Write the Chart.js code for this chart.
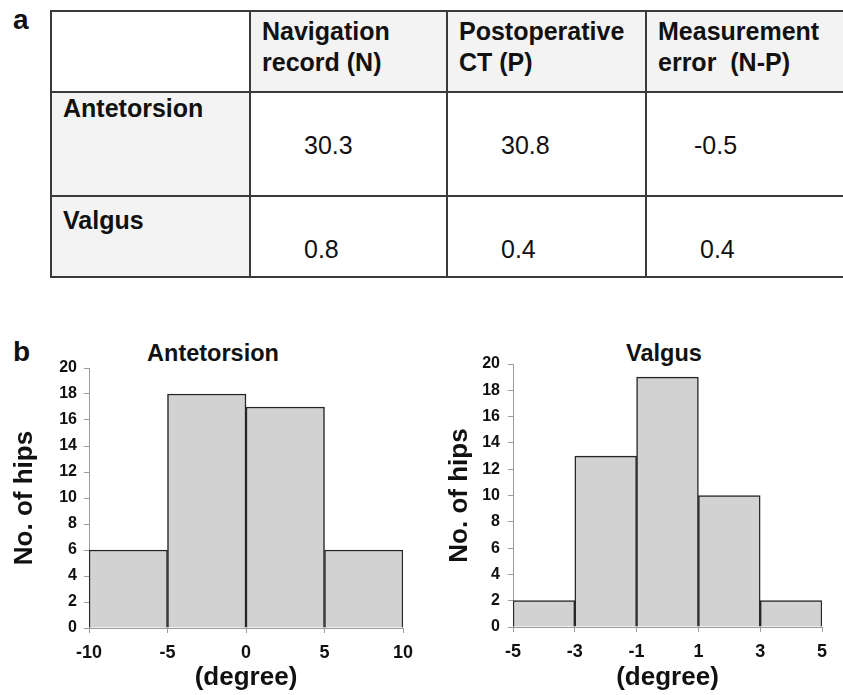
<!DOCTYPE html>
<html>
<head>
<meta charset="utf-8">
<script src="https://cdn.jsdelivr.net/npm/chart.js@4/dist/chart.umd.min.js"></script>
<style>
  html, body { margin:0; padding:0; background:#fff; width:843px; height:695px; overflow:hidden;
    font-family:"Liberation Sans", Arial, Helvetica, sans-serif; color:#111; }
  .abs { position:absolute; }
  .panel { font-weight:bold; font-size:28px; line-height:28px; }
  .ctitle { font-weight:bold; font-size:23.5px; line-height:23.5px; transform:translateX(-50%); white-space:nowrap; }
  table { position:absolute; left:50px; top:10px; width:793px; border-collapse:collapse; table-layout:fixed; }
  td { border:2px solid #3a3a3a; padding:0; vertical-align:top; font-size:25px; line-height:31px; }
  td.hd { background:#f3f3f3; font-weight:bold; padding:4px 0 0 11px; }
  td.rl { background:#f3f3f3; font-weight:bold; padding-left:11px; }
  td.val { background:#fff; padding-top:37px; }
  td.blank { background:#fff; }
  .ln { white-space:pre; }
  .chartbox { position:absolute; }
</style>
</head>
<body>

<div class="abs panel" style="left:13px; top:6px;">a</div>
<table id="tbl">
  <colgroup><col style="width:199px"><col style="width:197px"><col style="width:199px"><col style="width:198px"></colgroup>
</table>

<div class="abs panel" style="left:13px; top:338px;">b</div>
<div class="abs ctitle" id="t0" style="left:213px; top:342px;"></div>
<div class="abs ctitle" id="t1" style="left:664px; top:342px;"></div>

<div class="chartbox" style="left:0px; top:330px; width:430px; height:365px;">
  <canvas id="c0" width="430" height="365"></canvas>
</div>
<div class="chartbox" style="left:420px; top:330px; width:423px; height:365px;">
  <canvas id="c1" width="423" height="365"></canvas>
</div>

<script>
// ---------- Table data ----------
const colHeaders = [["Navigation", "record (N)"], ["Postoperative", "CT (P)"], ["Measurement", "error  (N-P)"]];
const rowLabels = ["Antetorsion", "Valgus"];
const antetorsionValues = [30.3, 30.8, -0.5];
const valgusValues = [0.8, 0.4, 0.4];

// ---------- Histogram data ----------
const chartTitles = ["Antetorsion", "Valgus"];
const yAxisTitle = "No. of hips";
const xAxisTitle = "(degree)";
const antetorsionBinEdges = [-10, -5, 0, 5, 10];
const antetorsionCounts = [6, 18, 17, 6];
const antetorsionXTicks = [-10, -5, 0, 5, 10];
const valgusBinEdges = [-5, -3, -1, 1, 3, 5];
const valgusCounts = [2, 13, 19, 10, 2];
const valgusXTicks = [-5, -3, -1, 1, 3, 5];
const yTicks = [0, 2, 4, 6, 8, 10, 12, 14, 16, 18, 20];

// ---------- Build table ----------
(function buildTable() {
  const tbl = document.getElementById('tbl');
  const heights = [81, 104, 81];
  const rowLabelPad = [0, 8];
  let tr = document.createElement('tr');
  tr.style.height = heights[0] + 'px';
  let td = document.createElement('td'); td.className = 'blank'; tr.appendChild(td);
  colHeaders.forEach(lines => {
    const c = document.createElement('td'); c.className = 'hd';
    lines.forEach(l => { const d = document.createElement('div'); d.className = 'ln'; d.textContent = l; c.appendChild(d); });
    tr.appendChild(c);
  });
  tbl.appendChild(tr);
  [antetorsionValues, valgusValues].forEach((vals, r) => {
    const row = document.createElement('tr');
    row.style.height = heights[r + 1] + 'px';
    const l = document.createElement('td'); l.className = 'rl'; l.textContent = rowLabels[r];
    l.style.paddingTop = rowLabelPad[r] + 'px';
    row.appendChild(l);
    vals.forEach(v => {
      const c = document.createElement('td'); c.className = 'val';
      c.style.paddingLeft = (v < 0 ? 47 : 53) + 'px';
      c.textContent = v.toFixed(1);
      row.appendChild(c);
    });
    tbl.appendChild(row);
  });
})();

document.getElementById('t0').textContent = chartTitles[0];
document.getElementById('t1').textContent = chartTitles[1];

// ---------- Histograms ----------
const FONT = '"Liberation Sans", Arial, Helvetica, sans-serif';
const AXIS_GRAY = '#9c9c9c';
const TEXT = '#111';

function makeHist(id, edges, counts, xTicks, lay) {
  const centers = counts.map((_, i) => (edges[i] + edges[i + 1]) / 2);
  return new Chart(document.getElementById(id), {
    type: 'bar',
    data: {
      datasets: [{
        data: centers.map((c, i) => ({ x: c, y: counts[i] })),
        backgroundColor: '#d1d2d1',
        borderColor: '#262626',
        borderWidth: 1.5,
        barPercentage: 1,
        categoryPercentage: 1
      }]
    },
    options: {
      responsive: false,
      animation: false,
      devicePixelRatio: 1,
      layout: { padding: { left: lay.padL, right: lay.padR, top: lay.padT, bottom: 0 } },
      plugins: { legend: { display: false }, tooltip: { enabled: false }, title: { display: false } },
      scales: {
        x: {
          type: 'linear',
          min: edges[0],
          max: edges[edges.length - 1],
          offset: false,
          grid: { display: true, offset: false, drawOnChartArea: false, drawTicks: true, tickLength: 5, color: AXIS_GRAY, lineWidth: 1 },
          border: { display: true, color: AXIS_GRAY, width: 1 },
          ticks: { color: TEXT, font: { family: FONT, size: 18, weight: 'bold' }, padding: 9, maxRotation: 0, autoSkip: false },
          afterBuildTicks: s => { s.ticks = xTicks.map(v => ({ value: v })); },
          title: { display: true, text: xAxisTitle, color: TEXT, font: { family: FONT, size: 26, weight: 'bold' }, padding: { top: 0, bottom: lay.xTitlePad } },
          afterFit: s => { s.height = lay.xH; }
        },
        y: {
          min: 0,
          max: 20,
          grid: { display: true, offset: false, drawOnChartArea: false, drawTicks: true, tickLength: 5, color: AXIS_GRAY, lineWidth: 1 },
          border: { display: true, color: AXIS_GRAY, width: 1 },
          ticks: { color: TEXT, font: { family: FONT, size: 16, weight: 'bold' }, padding: lay.yTickPad, autoSkip: false },
          afterBuildTicks: s => { s.ticks = yTicks.map(v => ({ value: v })); },
          title: { display: true, text: yAxisTitle, color: TEXT, font: { family: FONT, size: 26, weight: 'bold' }, padding: { top: lay.yTitlePad, bottom: 0 } },
          afterFit: s => { s.width = lay.yW; }
        }
      }
    }
  });
}

makeHist('c0', antetorsionBinEdges, antetorsionCounts, antetorsionXTicks,
  { padL: 5, padR: 27, padT: 38, xH: 67, yW: 84, xTitlePad: 2, yTitlePad: 4, yTickPad: 7 });
makeHist('c1', valgusBinEdges, valgusCounts, valgusXTicks,
  { padL: 20, padR: 21, padT: 34, xH: 68, yW: 73, xTitlePad: 2, yTitlePad: 4, yTickPad: 8 });
</script>
</body>
</html>
